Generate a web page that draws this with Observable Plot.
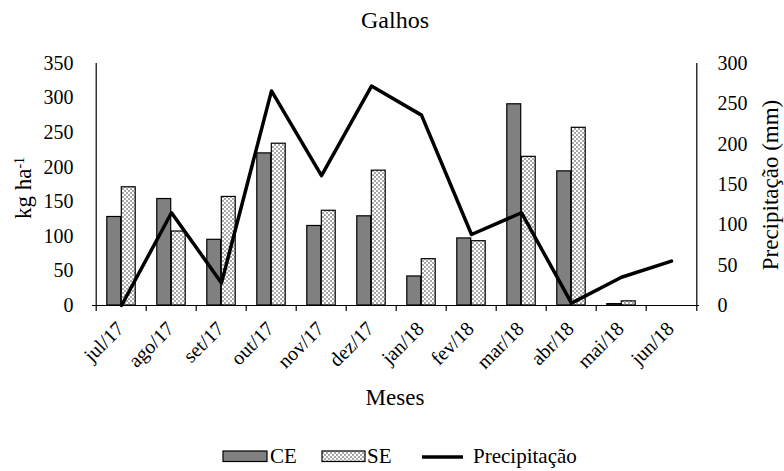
<!DOCTYPE html>
<html><head><meta charset="utf-8">
<script src="https://cdn.jsdelivr.net/npm/d3@7"></script>
<script src="https://cdn.jsdelivr.net/npm/@observablehq/plot@0.6"></script>
<style>body{margin:0;background:#fff} svg, svg text{font-family:"Liberation Serif","Times New Roman",Times,serif !important}</style>
</head><body><div id="chart"></div>
<script>
const months = ["jul/17","ago/17","set/17","out/17","nov/17","dez/17","jan/18","fev/18","mar/18","abr/18","mai/18","jun/18"];
const ceValues = [128,154,95,220,115,129,42,97,291,194,2,null];
const seValues = [171,107,157,234,137,195,67,93,215,257,6,null];
const precipValues = [0,115,28,266,161,272,236,88,115,3,35,55];
const leftTicks = [0,50,100,150,200,250,300,350];
const rightTicks = [0,50,100,150,200,250,300];

const k = 350/300;
const ceData = months.map((m,i)=>({month:m, value:ceValues[i]})).filter(d=>d.value!=null);
const seData = months.map((m,i)=>({month:m, value:seValues[i]})).filter(d=>d.value!=null);
const prData = months.map((m,i)=>({month:m, value:precipValues[i]}));

const W=784,H=471,mL=92,mR=85,mT=63,mB=166;
const bw=(W-mL-mR)/months.length;
const barW=14.5;

const plot = Plot.plot({
  width:W,height:H,marginLeft:mL,marginRight:mR,marginTop:mT,marginBottom:mB,
  style:{fontSize:"20px",color:"#000",background:"#fff",overflow:"visible"},
  x:{type:"band",domain:months,padding:0,axis:null,label:null},
  y:{domain:[0,350],axis:null,label:null},
  marks:[
    Plot.barY(ceData,{x:"month",y:"value",fill:"#808080",stroke:"#000",strokeWidth:1.2,insetLeft:bw/2-barW,insetRight:bw/2}),
    Plot.barY(seData,{x:"month",y:"value",fill:"url(#sePattern)",stroke:"#000",strokeWidth:1.2,insetLeft:bw/2,insetRight:bw/2-barW}),
    Plot.ruleY([0],{stroke:"#000",strokeWidth:1.2}),
    Plot.ruleX([months[0]],{dx:-bw/2,y1:0,y2:350,stroke:"#000",strokeWidth:1.2}),
    Plot.ruleX([months[months.length-1]],{dx:bw/2,y1:0,y2:350,stroke:"#000",strokeWidth:1.2}),
    Plot.axisX({tickSize:6,tickFormat:()=>"",dx:-bw/2,label:null,strokeWidth:1.2}),
    Plot.axisX([months[months.length-1]],{tickSize:6,tickFormat:()=>"",dx:bw/2,label:null,strokeWidth:1.2}),
    Plot.axisX({tickSize:0,tickRotate:-45,tickPadding:20,dx:-1,fontSize:20,label:null}),
    Plot.axisY(leftTicks,{tickSize:0,tickPadding:19,fontSize:20,label:null}),
    Plot.axisY(rightTicks.map(v=>v*k),{anchor:"right",tickSize:0,tickPadding:18,fontSize:20,tickFormat:d=>Math.round(d/k),label:null}),
    Plot.line(prData,{x:"month",y:d=>d.value*k,stroke:"#000",strokeWidth:3.5})
  ]
});
document.getElementById("chart").appendChild(plot);

const svg=d3.select(plot);
const defs=svg.insert("defs",":first-child");
const pat=defs.append("pattern").attr("id","sePattern").attr("patternUnits","userSpaceOnUse").attr("width",4).attr("height",4);
pat.append("rect").attr("width",4).attr("height",4).attr("fill","#a8a8a8");
pat.append("rect").attr("x",0).attr("y",0).attr("width",2).attr("height",2).attr("fill","#fff");
pat.append("rect").attr("x",2).attr("y",2).attr("width",2).attr("height",2).attr("fill","#fff");

const g=svg.append("g").attr("fill","#000").attr("text-anchor","start");
g.append("text").attr("x",395).attr("y",28).attr("text-anchor","middle").style("font-size","24px").text("Galhos");
g.append("text").attr("x",395).attr("y",405).attr("text-anchor","middle").style("font-size","23px").text("Meses");
const yl=g.append("text").attr("transform","translate(31,188) rotate(-90)").attr("text-anchor","middle").style("font-size","23px");
yl.append("tspan").text("kg ha");
yl.append("tspan").attr("baseline-shift","super").style("font-size","14px").text("-1");
g.append("text").attr("transform","translate(778,185) rotate(-90)").attr("text-anchor","middle").style("font-size","23px").text("Precipitação (mm)");

const lg=g.append("g").style("font-size","21px");
lg.append("rect").attr("x",223).attr("y",451).attr("width",44).attr("height",10.5).attr("fill","#808080").attr("stroke","#000").attr("stroke-width",1.2);
lg.append("text").attr("x",270).attr("y",463).text("CE");
lg.append("rect").attr("x",322).attr("y",451).attr("width",43).attr("height",10.5).attr("fill","url(#sePattern)").attr("stroke","#000").attr("stroke-width",1.2);
lg.append("text").attr("x",367).attr("y",463).text("SE");
lg.append("line").attr("x1",422).attr("x2",463).attr("y1",457).attr("y2",457).attr("stroke","#000").attr("stroke-width",3.5);
lg.append("text").attr("x",473).attr("y",463).text("Precipitação");
</script></body></html>
